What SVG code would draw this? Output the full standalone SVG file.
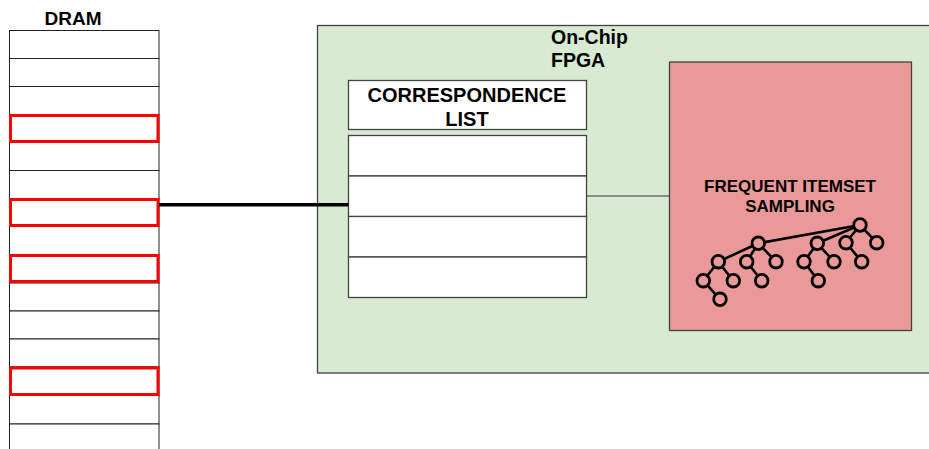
<svg xmlns="http://www.w3.org/2000/svg" width="929" height="449" viewBox="0 0 929 449">
<style>
text{font-family:"Liberation Sans",Arial,sans-serif;font-weight:bold;fill:#000}
.cell{fill:#fff;stroke:#222;stroke-width:1}
.hl{fill:none;stroke:#ff0000;stroke-width:3}
.box{stroke:#434343;stroke-width:1.3}
.tree circle{fill:#ea9999;stroke:#000;stroke-width:2.8}
.tree line{stroke:#000;stroke-width:2.6;stroke-linecap:round}
</style>
<rect width="929" height="449" fill="#fff"/>
<g id="dram">
<text x="73" y="24.5" font-size="19" text-anchor="middle">DRAM</text>
<rect class="cell" x="9.5" y="30.5" width="149.5" height="28"/>
<rect class="cell" x="9.5" y="58.5" width="149.5" height="28"/>
<rect class="cell" x="9.5" y="86.5" width="149.5" height="28"/>
<rect class="cell" x="9.5" y="114.5" width="149.5" height="28"/>
<rect class="cell" x="9.5" y="142.5" width="149.5" height="28"/>
<rect class="cell" x="9.5" y="170.5" width="149.5" height="28"/>
<rect class="cell" x="9.5" y="198.5" width="149.5" height="28"/>
<rect class="cell" x="9.5" y="226.5" width="149.5" height="28"/>
<rect class="cell" x="9.5" y="254.5" width="149.5" height="28.5"/>
<rect class="cell" x="9.5" y="283" width="149.5" height="28"/>
<rect class="cell" x="9.5" y="311" width="149.5" height="28"/>
<rect class="cell" x="9.5" y="339" width="149.5" height="28"/>
<rect class="cell" x="9.5" y="367" width="149.5" height="28.5"/>
<rect class="cell" x="9.5" y="395.5" width="149.5" height="28.5"/>
<rect class="cell" x="9.5" y="424" width="149.5" height="30"/>
<rect class="hl" x="10.5" y="115.5" width="147.5" height="26"/>
<rect class="hl" x="10.5" y="199.5" width="147.5" height="26"/>
<rect class="hl" x="10.5" y="255.5" width="147.5" height="26"/>
<rect class="hl" x="10.5" y="368" width="147.5" height="26.5"/>
</g>
<g id="fpga">
<rect class="box" x="317.5" y="25.5" width="630" height="347.5" fill="#d9ead3"/>
<text x="551" y="44" font-size="19.5">On-Chip</text>
<text x="551" y="67" font-size="19.5">FPGA</text>
</g>
<g id="correspondence-list">
<rect class="box" x="348.5" y="80.5" width="238" height="49" fill="#fff"/>
<text x="467" y="102" font-size="20" text-anchor="middle">CORRESPONDENCE</text>
<text x="467" y="125.5" font-size="20" text-anchor="middle">LIST</text>
<rect class="box" x="348.5" y="135.5" width="238" height="40.5" fill="#fff"/>
<rect class="box" x="348.5" y="176" width="238" height="40.5" fill="#fff"/>
<rect class="box" x="348.5" y="216.5" width="238" height="40.5" fill="#fff"/>
<rect class="box" x="348.5" y="257" width="238" height="40.5" fill="#fff"/>
</g>
<g id="frequent-itemset-sampling">
<rect class="box" x="669.5" y="62" width="242" height="268.5" fill="#ea9999"/>
<text x="790" y="192" font-size="17" text-anchor="middle">FREQUENT ITEMSET</text>
<text x="790" y="212" font-size="17" text-anchor="middle">SAMPLING</text>
<g class="tree">
<line x1="860" y1="225" x2="758.3" y2="243.3"/>
<line x1="860" y1="225" x2="817.3" y2="243.3"/>
<line x1="860" y1="225" x2="846" y2="242.7"/>
<line x1="860" y1="225" x2="876.7" y2="242.7"/>
<line x1="758.3" y1="243.3" x2="718.3" y2="261.7"/>
<line x1="758.3" y1="243.3" x2="746.7" y2="261.7"/>
<line x1="758.3" y1="243.3" x2="776" y2="261.7"/>
<line x1="817.3" y1="243.3" x2="804" y2="261.7"/>
<line x1="817.3" y1="243.3" x2="834" y2="261.7"/>
<line x1="846" y1="242.7" x2="861.7" y2="261.7"/>
<line x1="718.3" y1="261.7" x2="703.3" y2="280.7"/>
<line x1="718.3" y1="261.7" x2="733.3" y2="280.7"/>
<line x1="746.7" y1="261.7" x2="761.7" y2="280.7"/>
<line x1="804" y1="261.7" x2="818.3" y2="280.7"/>
<line x1="703.3" y1="280.7" x2="720" y2="299.3"/>
<circle cx="860" cy="225" r="6.3"/>
<circle cx="758.3" cy="243.3" r="6.3"/>
<circle cx="817.3" cy="243.3" r="6.3"/>
<circle cx="846" cy="242.7" r="6.3"/>
<circle cx="876.7" cy="242.7" r="6.3"/>
<circle cx="718.3" cy="261.7" r="6.3"/>
<circle cx="746.7" cy="261.7" r="6.3"/>
<circle cx="776" cy="261.7" r="6.3"/>
<circle cx="804" cy="261.7" r="6.3"/>
<circle cx="834" cy="261.7" r="6.3"/>
<circle cx="861.7" cy="261.7" r="6.3"/>
<circle cx="703.3" cy="280.7" r="6.3"/>
<circle cx="733.3" cy="280.7" r="6.3"/>
<circle cx="761.7" cy="280.7" r="6.3"/>
<circle cx="818.3" cy="280.7" r="6.3"/>
<circle cx="720" cy="299.3" r="6.3"/>
</g>
</g>
<g id="connectors">
<line x1="159" y1="204.7" x2="348.5" y2="204.7" stroke="#000" stroke-width="3.5"/>
<line x1="586.5" y1="196" x2="669.5" y2="196" stroke="#333" stroke-width="1.2"/>
</g>
</svg>
